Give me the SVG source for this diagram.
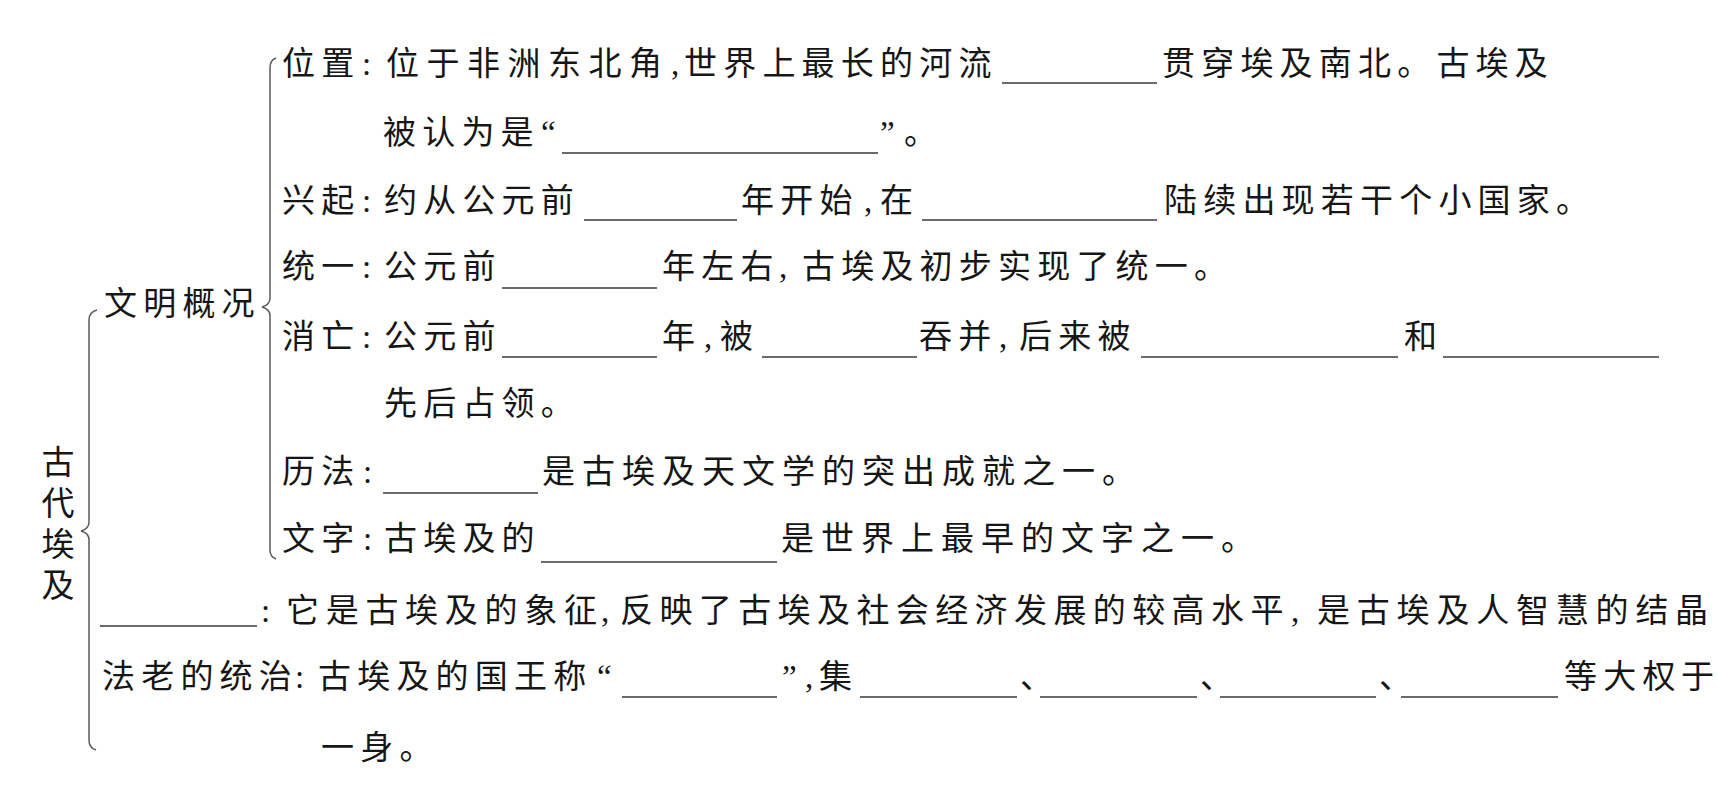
<svg xmlns="http://www.w3.org/2000/svg" width="1717" height="798" viewBox="0 0 1717 798">
<style>
.t{font-family:"Noto Sans CJK SC","Noto Sans",sans-serif;font-size:33px;letter-spacing:6.2px;fill:#161616}
.p{font-family:"Liberation Serif","Noto Sans CJK SC",serif;letter-spacing:0}
.b{stroke:#3a3a3a;stroke-width:1.4}
.br{fill:none;stroke:#5a5a5a;stroke-width:1.5}
</style>
<rect width="1717" height="798" fill="#ffffff"/>
<g id="connectors">
<path class="br" d="M97,310 Q89,312 89,320 L89,522 Q89,529 81,531 Q89,533 89,540 L89,740 Q89,748 96,750"/>
<path class="br" d="M276,58 Q270,60 270,68 L270,298 Q270,305 262,307 Q270,309 270,316 L270,550 Q270,557 276,559"/>
</g>
<g id="root">
<text class="t" x="58" y="445" style="writing-mode:vertical-rl;letter-spacing:8px">古代埃及</text>
</g>
<g id="wenming">
<text class="t" x="104" y="315">文明概况</text>
</g>
<g id="weizhi">
<text class="t" y="75"><tspan x="282">位置</tspan><tspan class="p" x="362">:</tspan><tspan x="386" style="letter-spacing:7.5px">位于非洲东北角</tspan><tspan class="p" x="671">,</tspan><tspan x="684">世界上最长的河流</tspan><tspan x="1162">贯穿埃及南北。古埃及</tspan></text>
<line class="b" x1="1002" y1="83" x2="1157" y2="83"/>
<text class="t" y="144"><tspan x="383">被认为是</tspan><tspan class="p" x="541">“</tspan><tspan class="p" x="880">”</tspan><tspan x="904">。</tspan></text>
<line class="b" x1="562" y1="153" x2="878" y2="153"/>
</g>
<g id="xingqi">
<text class="t" y="212"><tspan x="282">兴起</tspan><tspan class="p" x="362">:</tspan><tspan x="384">约从公元前</tspan><tspan x="741">年开始</tspan><tspan class="p" x="864">,</tspan><tspan x="880">在</tspan><tspan x="1164">陆续出现若干个小国家。</tspan></text>
<line class="b" x1="584" y1="220" x2="737" y2="220"/>
<line class="b" x1="922" y1="220" x2="1157" y2="220"/>
</g>
<g id="tongyi">
<text class="t" y="277.5"><tspan x="282">统一</tspan><tspan class="p" x="362">:</tspan><tspan x="384">公元前</tspan><tspan x="662">年左右</tspan><tspan class="p" x="779">,</tspan><tspan x="802">古埃及初步实现了统一。</tspan></text>
<line class="b" x1="502" y1="288" x2="657" y2="288"/>
</g>
<g id="xiaowang">
<text class="t" y="347.5"><tspan x="282">消亡</tspan><tspan class="p" x="362">:</tspan><tspan x="384">公元前</tspan><tspan x="662">年</tspan><tspan class="p" x="704">,</tspan><tspan x="720">被</tspan><tspan x="919">吞并</tspan><tspan class="p" x="999">,</tspan><tspan x="1019">后来被</tspan><tspan x="1404">和</tspan></text>
<line class="b" x1="502" y1="357" x2="657" y2="357"/>
<line class="b" x1="762" y1="357" x2="917" y2="357"/>
<line class="b" x1="1141" y1="357" x2="1398" y2="357"/>
<line class="b" x1="1443" y1="357" x2="1659" y2="357"/>
<text class="t" x="384" y="414.5">先后占领。</text>
</g>
<g id="lifa">
<text class="t" y="482.5"><tspan x="282">历法</tspan><tspan class="p" x="363">:</tspan><tspan x="542" style="letter-spacing:7px">是古埃及天文学的突出成就之一。</tspan></text>
<line class="b" x1="383" y1="493" x2="538" y2="493"/>
</g>
<g id="wenzi">
<text class="t" y="549.5"><tspan x="282">文字</tspan><tspan class="p" x="363">:</tspan><tspan x="384">古埃及的</tspan><tspan x="781" style="letter-spacing:7px">是世界上最早的文字之一。</tspan></text>
<line class="b" x1="541" y1="562" x2="777" y2="562"/>
</g>
<g id="jinzita">
<line class="b" x1="100" y1="626" x2="257" y2="626"/>
<text class="t" y="621.5"><tspan class="p" x="261">:</tspan><tspan x="286" style="letter-spacing:6.7px">它是古埃及的象征</tspan><tspan class="p" x="601">,</tspan><tspan x="620" style="letter-spacing:6.4px">反映了古埃及社会经济发展的较高水平</tspan><tspan class="p" x="1291">,</tspan><tspan x="1317" style="letter-spacing:6.8px">是古埃及人智慧的结</tspan><tspan x="1675" style="letter-spacing:0">晶</tspan></text>
</g>
<g id="falao">
<text class="t" y="687.5"><tspan x="102">法老的统治</tspan><tspan class="p" x="295">:</tspan><tspan x="318">古埃及的国王称</tspan><tspan class="p" x="597">“</tspan><tspan class="p" x="782">”</tspan><tspan class="p" x="805">,</tspan><tspan x="819">集</tspan><tspan x="1020">、</tspan><tspan x="1200">、</tspan><tspan x="1379">、</tspan><tspan x="1564">等大权</tspan><tspan x="1681" style="letter-spacing:0">于</tspan></text>
<line class="b" x1="622" y1="697" x2="777" y2="697"/>
<line class="b" x1="860" y1="697" x2="1017" y2="697"/>
<line class="b" x1="1040" y1="697" x2="1197" y2="697"/>
<line class="b" x1="1220" y1="697" x2="1376" y2="697"/>
<line class="b" x1="1401" y1="697" x2="1558" y2="697"/>
<text class="t" x="321" y="758.5">一身。</text>
</g>
</svg>
